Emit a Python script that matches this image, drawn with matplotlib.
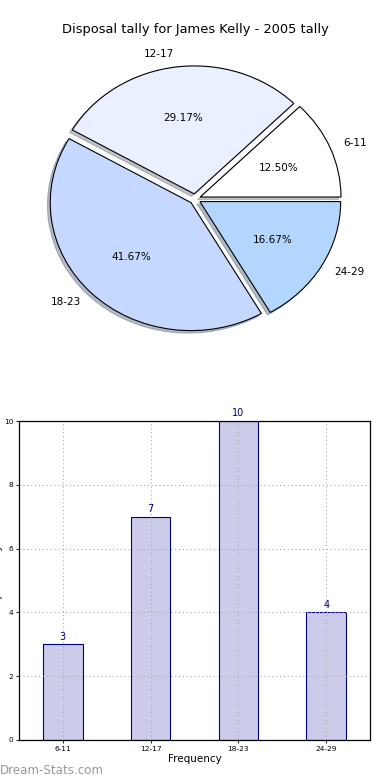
import matplotlib
matplotlib.use("Agg")
import matplotlib.pyplot as plt

categories = ["6-11", "12-17", "18-23", "24-29"]
counts = [3, 7, 10, 4]
pie_colors = ["#ffffff", "#eaf0ff", "#c5d8ff", "#b3d6ff"]
title = "Disposal tally for James Kelly - 2005 tally"

W, H = 390, 780
fig = plt.figure(figsize=(W / 100, H / 100), dpi=100)
fig.patch.set_facecolor("white")

def px_axes(left, top, right, bottom):
    return fig.add_axes([left / W, 1 - bottom / H, (right - left) / W, (bottom - top) / H])

# Pie
axp = px_axes(19, 39, 371, 359)
wedges, texts, autotexts = axp.pie(
    counts, labels=categories, colors=pie_colors, explode=[0.04] * 4,
    autopct="%1.2f%%", shadow=dict(ox=-0.014, oy=-0.014, shade=0.45),
    startangle=0, labeldistance=1.1, pctdistance=0.6,
    wedgeprops=dict(edgecolor="black", linewidth=0.8),
    textprops=dict(fontsize=7.5),
)
axp.set_aspect("auto")
axp.set_xlim(-1.25, 1.25)
axp.set_ylim(-1.25, 1.25)
axp.axis("off")
for t in texts:
    x, y = t.get_position()
    t.set_ha("left" if x > 0 else "right")
    t.set_va("center")
fig.text(195 / W, 1 - 30 / H, title, ha="center", va="center", fontsize=9.4)

# Bars
axb = px_axes(19, 421, 370, 740)
x = list(range(len(categories)))
axb.bar(x, counts, width=0.45, color="#ccccea", edgecolor="#000080", linewidth=0.8, zorder=1)
axb.set_xlim(-0.5, 3.5)
axb.set_ylim(0, 10)
axb.set_xticks(x)
axb.set_xticklabels(categories)
axb.set_yticks([0, 2, 4, 6, 8, 10])
axb.tick_params(labelsize=5.3, length=2, width=0.6, pad=2)
axb.set_axisbelow("line")
axb.grid(True, linestyle=(0, (1, 2.5)), color="#aaaaaa", linewidth=0.8)
for s in axb.spines.values():
    s.set_linewidth(0.9)
    s.set_zorder(3)
axb.set_xlabel("Frequency", fontsize=7.5, labelpad=2)
for xi, c in zip(x, counts):
    axb.annotate(str(c), (xi, c), xytext=(0, 2), textcoords="offset points",
                 ha="center", va="bottom", fontsize=7, color="#000080", clip_on=False)

fig.text(3 / W, 1 - 580 / H, "Disposal Tally", rotation=90, ha="right", va="center", fontsize=7.5)
fig.text(0, 1 - 770 / H, "Dream-Stats.com", ha="left", va="center", fontsize=8.6, color="#999999")

fig.savefig("out.png", dpi=100)
